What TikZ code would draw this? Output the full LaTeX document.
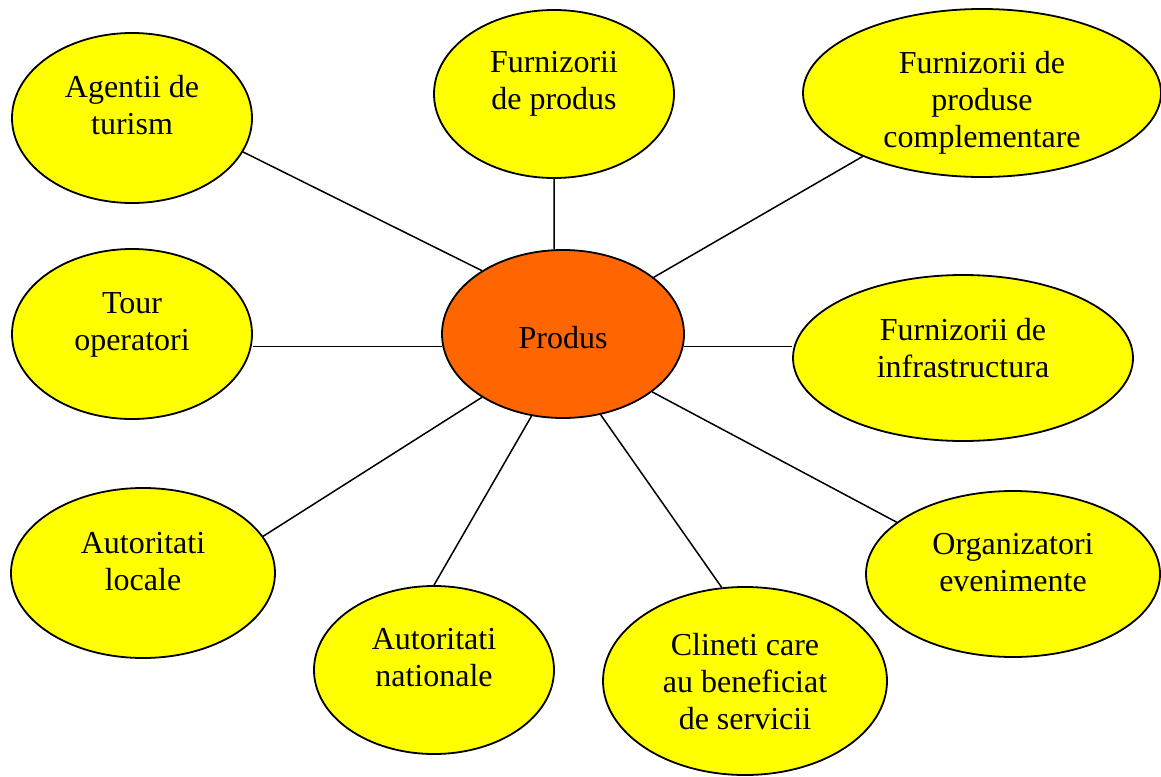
\documentclass[tikz,border=0pt]{standalone}
\usepackage{fontspec}
\setmainfont{Liberation Serif}
\definecolor{bubbleyellow}{HTML}{FFFF00}
\definecolor{produsorange}{HTML}{FF6600}
\usetikzlibrary{shapes.geometric}
\tikzset{
  bubble/.style={ellipse, draw=black, line width=1.8pt, fill=bubbleyellow, inner sep=0pt},
  lbl/.style={align=center, font=\fontsize{32}{37}\selectfont, inner sep=0pt},
  link/.style={draw=black, line width=1.5pt}
}

\begin{document}
\begin{tikzpicture}[x=1pt,y=-1pt]
  \useasboundingbox (0,0) rectangle (1161,776);
  % partners round the product
  \foreach \n/\x/\y/\rx/\ry/\s/\t in {
      agentii/132/118/120/85/13/{Agentii de\\turism},
      furnprod/554/94/120/84/10/{Furnizorii\\de produs},
      furncompl/982/93/179/84/-10/{Furnizorii de\\produse\\complementare},
      tour/132/334/120/85/9/{Tour\\operatori},
      infra/963/358/170/83/10/{Furnizorii de\\infrastructura},
      locale/143/573/132/85/11/{Autoritati\\locale},
      nationale/434/670/120/84/12/{Autoritati\\nationale},
      clineti/745/681/142/94/-1/{Clineti care\\au beneficiat\\de servicii},
      organiz/1013/574/147/83/11/{Organizatori\\evenimente}}{
    \node[bubble, minimum width=2*\rx, minimum height=2*\ry,
          label={[lbl,yshift=\s pt]center:{\t}}] (\n) at (\x,\y) {};
  }
  \node[bubble, fill=produsorange, minimum width=242, minimum height=168,
        label={[lbl,yshift=-4pt]center:Produs}] (produs) at (563,334) {};

  % links
  \draw[link] (produs.142) -- (agentii.-17);
  \draw[link] (produs.96) -- (furnprod.south);
  \draw[link] (produs.32) -- (furncompl.208);
  \draw[link] (produs.186) -- (produs.186 -| tour.east);
  \draw[link] (produs.-6) -- (produs.-6 -| infra.west);
  \draw[link] (produs.-33) -- (organiz.156);
  \draw[link] (produs.-65) -- (clineti.104);
  \draw[link] (produs.-111) -- (nationale.north);
  \draw[link] (produs.218) -- (locale.17);
\end{tikzpicture}
\end{document}
